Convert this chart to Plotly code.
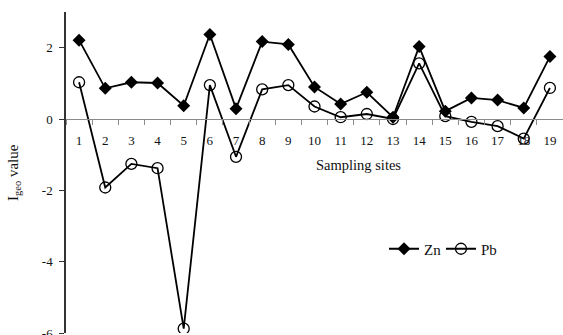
import plotly.graph_objects as go

sites = [str(i) for i in range(1, 20)]
zn = [2.21, 0.86, 1.03, 1.01, 0.37, 2.37, 0.29, 2.17, 2.09, 0.90, 0.42, 0.75, 0.05, 2.03, 0.22, 0.59, 0.53, 0.31, 1.75]
pb = [1.03, -1.92, -1.26, -1.38, -5.88, 0.95, -1.06, 0.83, 0.95, 0.35, 0.05, 0.14, 0.00, 1.56, 0.08, -0.08, -0.20, -0.55, 0.87]
y_ticks = [-6, -4, -2, 0, 2]
y_tick_labels = ["-6", "-4", "-2", "0", "2"]

FONT = "Liberation Serif"
TXT = "#111"

fig = go.Figure()
fig.add_trace(go.Scatter(
    x=sites, y=zn, name="Zn", mode="lines+markers", legend="legend",
    line=dict(color="black", width=1.8),
    marker=dict(symbol="diamond", size=10, color="black"),
))
fig.add_trace(go.Scatter(
    x=sites, y=pb, name="Pb", mode="lines+markers", legend="legend2",
    line=dict(color="black", width=1.8),
    marker=dict(symbol="circle-open", size=11, color="black", line=dict(width=1.3)),
))

leg_common = dict(orientation="h", xanchor="left", yanchor="middle",
                  font=dict(family=FONT, size=15, color=TXT),
                  bgcolor="rgba(0,0,0,0)", itemwidth=30)

fig.update_layout(
    width=563, height=335,
    margin=dict(l=66, r=0, t=12, b=2, autoexpand=False),
    paper_bgcolor="white", plot_bgcolor="white",
    font=dict(family=FONT, size=13, color=TXT),
    showlegend=True,
    legend=dict(x=(384 - 66) / 497, y=(333 - 249) / 321, **leg_common),
    legend2=dict(x=(441 - 66) / 497, y=(333 - 249) / 321, **leg_common),
    xaxis=dict(
        type="category", range=[-0.5, 18.5],
        anchor="free", position=6/9, automargin=False,
        showline=True, linecolor="#8a8a8a", linewidth=1.3,
        ticks="outside", ticklen=5, tickcolor="#8a8a8a", tickwidth=1,
        tickson="boundaries",
        showgrid=False, zeroline=False,
        tickfont=dict(family=FONT, size=13, color=TXT),
        ticklabelstandoff=9,
    ),
    yaxis=dict(
        range=[-6, 3], tickvals=y_ticks, ticktext=y_tick_labels,
        automargin=False,
        showline=True, linecolor="#333", linewidth=1.5,
        ticks="outside", ticklen=5, tickcolor="#333",
        showgrid=False, zeroline=False,
        tickfont=dict(family=FONT, size=13, color=TXT),
        ticklabelstandoff=4, ticklabeloverflow="allow",
    ),
    annotations=[
        dict(text="Sampling sites", xref="x", yref="y", x=10.69, y=-1.29,
             showarrow=False, font=dict(family=FONT, size=14.5, color=TXT)),
        dict(text="I<sub>geo</sub> value", xref="paper", yref="paper",
             x=(14 - 66) / 497, y=(333 - 173) / 321, textangle=-90,
             xanchor="center", yanchor="middle",
             showarrow=False, font=dict(family=FONT, size=15, color=TXT)),
    ],
)

fig.write_html("out.html", config={"displayModeBar": False},
               post_script="document.body.style.margin='0';document.body.style.padding='0';")
